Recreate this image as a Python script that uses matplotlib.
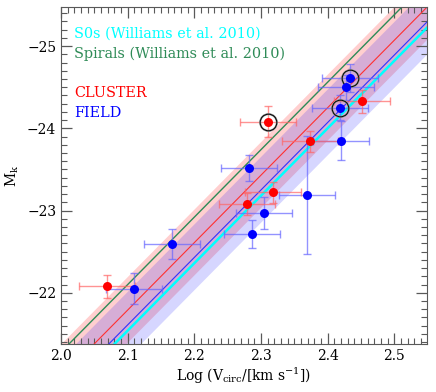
"""Ks-band Tully-Fisher relation: cluster vs field galaxies against Williams et al. 2010."""

import numpy as np
import matplotlib
matplotlib.use("Agg")
import matplotlib.pyplot as plt
from matplotlib.ticker import MultipleLocator

plt.rcParams["font.family"] = "DejaVu Serif"
plt.rcParams["mathtext.fontset"] = "dejavuserif"

# cluster galaxies (red)
cluster_logv = [2.452, 2.310, 2.374, 2.318, 2.279, 2.069]
cluster_mk = [-24.33, -24.08, -23.84, -23.22, -23.08, -22.08]
cluster_mk_err = [0.14, 0.19, 0.13, 0.13, 0.13, 0.14]
cluster_logv_err = [0.042, 0.042, 0.042, 0.042, 0.042, 0.042]

# field galaxies (blue)
field_logv = [2.434, 2.427, 2.418, 2.420, 2.282, 2.369, 2.305, 2.286, 2.166, 2.110]
field_mk = [-24.61, -24.50, -24.25, -23.85, -23.52, -23.19, -22.97, -22.72, -22.59, -22.05]
field_mk_err = [0.17, 0.15, 0.15, 0.24, 0.16, 0.72, 0.20, 0.17, 0.18, 0.19]
field_logv_err = [0.042] * 10

# ringed objects
ringed_logv = [2.434, 2.418, 2.310]
ringed_mk = [-24.61, -24.25, -24.08]

# TF fits: M_K = zp + slope * (logV - 2.2)
slope = -8.2
zp_spirals = -22.92
zp_s0 = -22.36
zp_cluster = -22.61
zp_field = -22.43
scatter_cluster = 0.40
scatter_field = 0.40

fig = plt.figure(figsize=(4.36, 3.92), dpi=100)
ax = fig.add_axes([0.140, 0.123, 0.839, 0.858])

xx = np.linspace(1.9, 2.7, 50)


def tf(zp):
    return zp + slope * (xx - 2.2)


ax.fill_between(xx, tf(zp_cluster) - scatter_cluster, tf(zp_cluster) + scatter_cluster,
                color="red", alpha=0.19, lw=0)
ax.fill_between(xx, tf(zp_field) - scatter_field, tf(zp_field) + scatter_field,
                color="blue", alpha=0.16, lw=0)

ax.plot(xx, tf(zp_spirals), color="#2e8b57", lw=1.0)
ax.plot(xx, tf(zp_cluster), color="#ff3030", lw=0.8)
ax.plot(xx, tf(zp_field), color="#3030ff", lw=0.8)
ax.plot(xx, tf(zp_s0), color="cyan", lw=1.8)

ax.errorbar(field_logv, field_mk, xerr=field_logv_err, yerr=field_mk_err, fmt="none",
            ecolor=(0.4, 0.4, 1.0, 0.7), elinewidth=1.0, capsize=3, capthick=1.0)
ax.errorbar(cluster_logv, cluster_mk, xerr=cluster_logv_err, yerr=cluster_mk_err, fmt="none",
            ecolor=(1.0, 0.4, 0.4, 0.7), elinewidth=1.0, capsize=3, capthick=1.0)

ax.plot(ringed_logv, ringed_mk, "o", ms=12, mfc="none", mec="0.6", mew=1.5, zorder=4)
ax.plot(ringed_logv, ringed_mk, "o", ms=12, mfc="none", mec="black", mew=0.7, zorder=4)
ax.plot(field_logv, field_mk, "o", ms=6.5, color="blue", mec="none", zorder=5)
ax.plot(cluster_logv, cluster_mk, "o", ms=6.5, color="red", mec="none", zorder=5)

ax.set_xlim(2.0, 2.549)
ax.set_ylim(-21.38, -25.47)

ax.xaxis.set_major_locator(MultipleLocator(0.1))
ax.xaxis.set_minor_locator(MultipleLocator(0.01))
ax.yaxis.set_major_locator(MultipleLocator(1))
ax.yaxis.set_minor_locator(MultipleLocator(0.1))
ax.tick_params(which="both", direction="in", top=True, right=True, color="0.35", labelsize=10)
ax.tick_params(which="major", length=8, width=0.9)
ax.tick_params(which="minor", length=4, width=0.8)
for sp in ax.spines.values():
    sp.set_color("0.35")

ax.set_xlabel(r"Log (V$_{\rm circ}$/[km s$^{-1}$])", fontsize=10, labelpad=2)
ax.set_ylabel(r"M$_{\rm k}$", fontsize=10, labelpad=4)

ax.text(0.036, 0.921, "S0s (Williams et al. 2010)", color="cyan", fontsize=10.4,
        transform=ax.transAxes, va="center")
ax.text(0.036, 0.861, "Spirals (Williams et al. 2010)", color="#2e8b57", fontsize=10.4,
        transform=ax.transAxes, va="center")
ax.text(0.036, 0.746, "CLUSTER", color="red", fontsize=10.4, transform=ax.transAxes, va="center")
ax.text(0.036, 0.687, "FIELD", color="blue", fontsize=10.4, transform=ax.transAxes, va="center")

fig.savefig("out.png", dpi=100)
